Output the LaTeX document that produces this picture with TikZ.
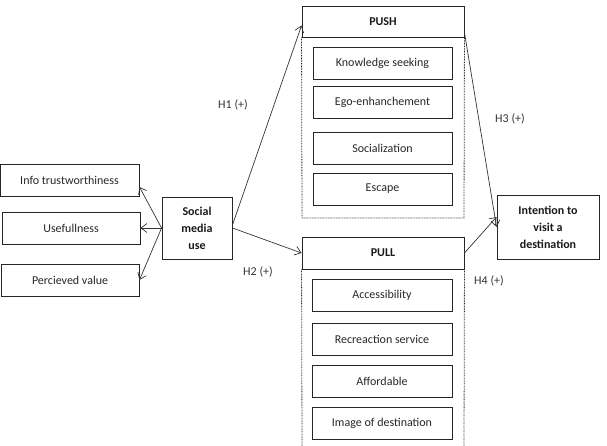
\documentclass[tikz,border=0pt]{standalone}
\usepackage{fontspec}
\setmainfont{Carlito}
\usetikzlibrary{arrows.meta}
\begin{document}
\begin{tikzpicture}[x=1pt,y=-1pt,
  box/.style={draw=black!85,line width=0.9pt,minimum width=#1,minimum height=32pt,inner sep=0pt,font=\fontsize{12}{14}\selectfont,text=black!85},
  box/.default=139pt,
  bbox/.style={draw=black!85,line width=0.9pt,inner sep=0pt,font=\bfseries\fontsize{12}{17}\selectfont,align=center,text=black!90},
  conn/.style={draw=black!80,line width=0.7pt,-{Straight Barb[length=6pt,width=9pt]}},
  lab/.style={font=\fontsize{12}{14}\selectfont,text=black!80},
  dots/.style={draw=black!85,line width=0.8pt,dash pattern=on 0.8pt off 0.8pt}]
\useasboundingbox (0,0) rectangle (607,446);
% left boxes
\node[box=139pt] (info) at (69.5,180) {Info trustworthiness};
\node[box=138pt] (usef) at (71,228) {Usefullness};
\node[box=138pt] (perc) at (70,280) {Percieved value};
\node[bbox,minimum width=70pt,minimum height=62pt] (smu) at (197,228) {Social\\media\\use};
% push
\node[bbox,minimum width=162pt,minimum height=31pt] (push) at (383,21.5) {PUSH};
\coordinate (pushbl) at (302,218);
\coordinate (pushbr) at (464,218);
\draw[dots] (push.south west) -- (pushbl) -- (pushbr) -- (push.south east);
\node[box=139pt] (ks) at (382.5,63) {Knowledge seeking};
\node[box=139pt] (ego) at (382.5,102.5) {Ego-enhanchement};
\node[box=139pt] (soc) at (382.5,148) {Socialization};
\node[box=139pt] (esc) at (382.5,189) {Escape};
% pull
\node[bbox,minimum width=162pt,minimum height=32pt] (pull) at (383,253) {PULL};
\coordinate (pullbl) at (302,447);
\coordinate (pullbr) at (464,447);
\draw[dots] (pull.south west) -- (pullbl);
\draw[dots] (pull.south east) -- (pullbr);
\node[box=140pt] (acc) at (382,295) {Accessibility};
\node[box=140pt] (rec) at (382,339) {Recreaction service};
\node[box=140pt] (aff) at (382,381) {Affordable};
\node[box=140pt] (img) at (382,423) {Image of destination};
% outcome
\node[bbox,minimum width=102pt,minimum height=64pt] (int) at (548,227) {Intention to\\visit a\\destination};
% connectors
\draw[conn] (smu.west) -- ([yshift=-7pt]info.east);
\draw[conn] (smu.west) -- (usef.east);
\draw[conn] (smu.west) -- (perc.east);
\draw[conn] ([yshift=3pt]smu.east) -- ([yshift=-4pt]push.west);
\draw[conn] (smu.east) -- (pull.west);
\draw[conn] ([yshift=-11pt]push.east) -- (int.west);
\draw[conn] (pull.east) -- ([yshift=10pt]int.west);
% labels
\node[lab] (h1) at (233,105) {H1 (+)};
\node[lab] (h2) at (258,272) {H2 (+)};
\node[lab] (h3) at (510,119) {H3 (+)};
\node[lab] (h4) at (489,281) {H4 (+)};
\end{tikzpicture}
\end{document}
